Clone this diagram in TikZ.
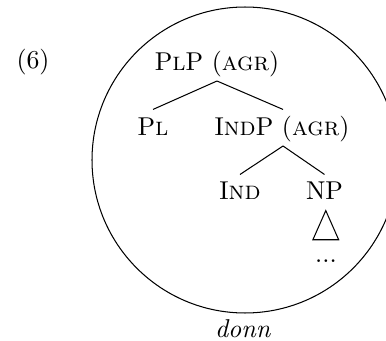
\documentclass[tikz,border=0pt]{standalone}
\begin{document}
\begin{tikzpicture}[x=0.3876pt,y=-0.3876pt,
  lbl/.style={anchor=base,inner sep=0pt,outer sep=0pt},
  edge/.style={line width=0.4pt}]
\useasboundingbox (0,0) rectangle (386,341);
\clip (0,0) rectangle (386,341);
\node[lbl] (ex) at (33,68.5) {(6)};
\node[lbl] (plp) at (217,70.5) {P\textsc{l}P (\textsc{agr})};
\node[lbl] (pl) at (153,135.5) {P\textsc{l}};
\node[lbl] (indp) at (282,135.5) {I\textsc{nd}P (\textsc{agr})};
\node[lbl] (ind) at (240,199.5) {I\textsc{nd}};
\node[lbl] (np) at (324.5,199.5) {NP};
\node[lbl] (dots) at (326,263) {...};
\node[lbl] (donn) at (243,337.5) {\textit{donn}};
\draw[edge] ([yshift=-4.07pt]plp.base) -- ([yshift=10.1pt]pl.base);
\draw[edge] ([yshift=-4.07pt]plp.base) -- ([yshift=10.1pt,xshift=0.4pt]indp.base);
\draw[edge] ([yshift=-4.07pt,xshift=0.4pt]indp.base) -- ([yshift=9.7pt]ind.base);
\draw[edge] ([yshift=-4.07pt,xshift=0.4pt]indp.base) -- ([yshift=9.7pt]np.base);
\draw[edge] ([yshift=-4.3pt,xshift=0.5pt]np.base) -- ++(-5pt,-11.3pt) -- ++(10pt,0pt) -- cycle;
\draw[edge] (245,160) circle[radius=59.3pt];
\end{tikzpicture}
\end{document}
